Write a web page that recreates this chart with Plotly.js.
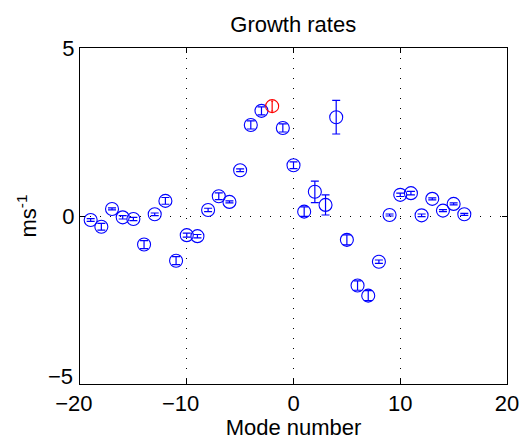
<!DOCTYPE html>
<html>
<head>
<meta charset="utf-8">
<script src="https://cdn.plot.ly/plotly-3.0.1.min.js"></script>
<style>
  html, body { margin: 0; padding: 0; background: #fff; }
  #chart { width: 519px; height: 440px; }
</style>
</head>
<body>
<div id="chart"></div>
<script>
// Growth rate per mode number, with error estimates
const modes = [-19, -18, -17, -16, -15, -14, -13, -12, -11, -10, -9, -8, -7, -6, -5, -4, -3,
               -1, 0, 1, 2, 3, 4, 5, 6, 7, 8, 9, 10, 11, 12, 13, 14, 15, 16];
const rates = [-0.12, -0.32, 0.21, -0.04, -0.09, -0.85, 0.05, 0.45, -1.33, -0.57, -0.60, 0.18, 0.59, 0.42, 1.36, 2.71, 3.13,
               2.62, 1.51, 0.13, 0.72, 0.33, 2.94, -0.71, -2.07, -2.37, -1.36, 0.03, 0.63, 0.68, 0.02, 0.51, 0.16, 0.36, 0.05];
const rateErrors = [0.04, 0.10, 0.03, 0.05, 0.05, 0.12, 0.04, 0.10, 0.12, 0.06, 0.05, 0.05, 0.10, 0.03, 0.04, 0.12, 0.12,
                    0.12, 0.10, 0.14, 0.32, 0.30, 0.50, 0.15, 0.14, 0.15, 0.05, 0.03, 0.05, 0.05, 0.04, 0.03, 0.03, 0.03, 0.03];

// The fastest-growing mode, highlighted
const peakMode = [-2];
const peakRate = [3.27];
const peakError = [0.15];

// Tick positions and labels; negative x labels carry a figure space so the digits sit centred on the tick
const xTicks = [-20, -10, 0, 10, 20];
const xTickText = ['\u221220\u2007', '\u221210\u2007', '0', '10', '20'];
const yTicks = [-5, 0, 5];
const yTickText = ['', '0', '5'];
const yBottomLabel = '\u22125';

const FONT = 'Liberation Sans, Arial, Helvetica, sans-serif';
const FS = 22;

const traces = [
  {
    x: modes, y: rates, type: 'scatter', mode: 'markers',
    marker: { symbol: 'circle-open', size: 13, color: '#0000ff', line: { width: 1.1, color: '#0000ff' } },
    error_y: { type: 'data', array: rateErrors, visible: true, color: '#0000ff', thickness: 1.2, width: 4 },
    hoverinfo: 'x+y'
  },
  {
    x: peakMode, y: peakRate, type: 'scatter', mode: 'markers',
    marker: { symbol: 'circle-open', size: 13, color: '#ff0000', line: { width: 1.1, color: '#ff0000' } },
    error_y: { type: 'data', array: peakError, visible: true, color: '#ff0000', thickness: 1.2, width: 1 },
    hoverinfo: 'x+y'
  }
];

const axisCommon = {
  showline: true, linecolor: '#000', linewidth: 1, mirror: 'ticks',
  ticks: 'inside', ticklen: 5, tickwidth: 1, tickcolor: '#000',
  showgrid: true, gridcolor: '#000', gridwidth: 1, griddash: '1px,9px',
  zeroline: false, tickfont: { family: FONT, size: FS, color: '#000' },
  tickmode: 'array', ticklabeloverflow: 'allow'
};

const layout = {
  width: 519, height: 440,
  margin: { l: 80, r: 12, t: 48, b: 56 },
  paper_bgcolor: '#fff', plot_bgcolor: '#fff',
  showlegend: false,
  font: { family: FONT, size: FS, color: '#000' },
  title: { text: 'Growth rates', font: { family: FONT, size: FS, color: '#000' },
           x: 0.565, xanchor: 'center', y: 0.945, yref: 'container', yanchor: 'middle' },
  xaxis: Object.assign({}, axisCommon, {
    range: [-20, 20], tickvals: xTicks, ticktext: xTickText,
    title: { text: 'Mode number', font: { family: FONT, size: FS, color: '#000' }, standoff: 3 }
  }),
  yaxis: Object.assign({}, axisCommon, {
    range: [-5, 5], tickvals: yTicks, ticktext: yTickText,
    title: { text: 'ms<sup>-1</sup>', font: { family: FONT, size: FS, color: '#000' }, standoff: 19 }
  }),
  // the lowest y label is lifted clear of the x labels
  annotations: [{
    text: yBottomLabel, xref: 'paper', x: 0, xanchor: 'right', xshift: -5,
    yref: 'y', y: yTicks[0], yanchor: 'middle', yshift: 8,
    showarrow: false, font: { family: FONT, size: FS, color: '#000' }
  }]
};

Plotly.newPlot('chart', traces, layout, { displayModeBar: false, staticPlot: true });
</script>
</body>
</html>
